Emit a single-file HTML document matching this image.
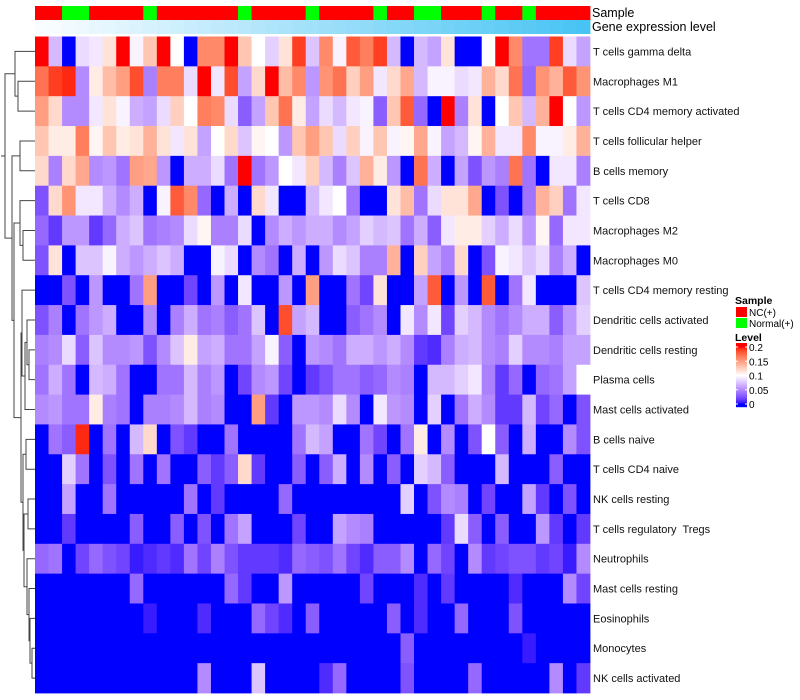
<!DOCTYPE html>
<html><head><meta charset="utf-8"><style>
html,body{margin:0;padding:0;background:#fff;}
svg{display:block;font-family:"Liberation Sans",sans-serif;}
text{white-space:pre;}
</style></head><body>
<svg id="chart" width="800" height="700" xmlns="http://www.w3.org/2000/svg"></svg>
<script>
const rowLabels=["T cells gamma delta","Macrophages M1","T cells CD4 memory activated","T cells follicular helper","B cells memory","T cells CD8","Macrophages M2","Macrophages M0","T cells CD4 memory resting","Dendritic cells activated","Dendritic cells resting","Plasma cells","Mast cells activated","B cells naive","T cells CD4 naive","NK cells resting","T cells regulatory  Tregs","Neutrophils","Mast cells resting","Eosinophils","Monocytes","NK cells activated"];
const sampleGroups=["NC","NC","Normal","Normal","NC","NC","NC","NC","Normal","NC","NC","NC","NC","NC","NC","Normal","NC","NC","NC","NC","Normal","NC","NC","NC","NC","Normal","NC","NC","Normal","Normal","NC","NC","NC","Normal","NC","NC","Normal","NC","NC","NC","NC"];
const geneLevel=[0,0.025,0.05,0.075,0.1,0.125,0.15,0.175,0.2,0.225,0.25,0.275,0.3,0.325,0.35,0.375,0.4,0.425,0.45,0.475,0.5,0.525,0.55,0.575,0.6,0.625,0.65,0.675,0.7,0.725,0.75,0.775,0.8,0.825,0.85,0.875,0.9,0.925,0.95,0.975,1];
const r01=[.2,.07,0,.085,.09,.115,.2,.095,.13,.2,.1,0,.16,.16,.2,.13,.1,.08,.115,.19,.075,.16,.095,.18,.165,.19,.07,0,.07,.06,.115,0,0,.1,.2,.16,.04,.04,.19,.085,.06];
const r02=[.17,.19,.195,.05,.11,.135,.15,.185,.045,.165,.165,.085,.2,.09,.185,.06,.12,.2,.135,.16,.055,.155,.17,.125,.15,.09,.12,.145,.07,.095,.095,.085,.09,.14,.12,.17,.035,.155,.14,.18,.155];
const r03=[.15,.12,.05,.05,.09,.115,.095,.065,.06,.085,.125,.1,.165,.16,.085,.03,.06,.13,.17,.11,.06,.085,.07,.09,.095,.03,.13,.18,.035,0,.2,.045,.115,0,.1,.13,.07,.14,.2,.1,.055];
const r04=[.13,.11,.11,.165,.105,.13,.11,.115,.14,.115,.09,.115,.06,.1,.12,.075,.105,.1,.055,.13,.15,.13,.085,.125,.095,.13,.095,.105,.145,.095,.06,.07,.105,.14,.09,.09,.16,.095,.095,.11,.14];
const r05=[.12,.045,.12,.145,.05,.055,.04,.15,.145,.055,0,.065,.065,.085,.04,.2,.04,.055,.1,.09,.125,.07,.045,.075,.14,.11,.055,0,.17,.065,0,.06,.025,.055,.045,.17,.04,0,.09,.09,.045];
const r06=[.025,.12,.155,.09,.09,.065,.05,.065,0,.095,.18,.16,.035,0,.065,0,.12,.09,0,0,.07,.09,.1,.04,0,0,.115,.135,.04,.085,.115,.115,.145,0,.025,0,.04,.14,.125,.04,.09];
const r07=[.035,.015,.055,.055,.015,.035,.065,.075,.04,.045,.05,.085,.105,.045,.045,.085,0,.05,.065,.055,.065,.065,.05,.06,.08,.07,.075,.04,.065,.03,.09,.11,.11,.08,.065,.085,.055,.105,.035,.09,.09];
const r08=[.025,.115,0,.075,.075,.095,.065,.055,.065,.075,.065,0,0,.095,.085,0,.05,.04,0,.065,0,.055,.085,.075,.045,.045,.14,0,.125,.06,.045,.12,0,.025,.095,.09,.075,.085,.045,.065,0];
const r09=[0,0,.025,0,.055,0,0,.04,.15,0,0,.02,0,.055,0,.09,0,0,.055,0,.15,0,0,.04,.02,.115,0,0,.06,.18,0,.055,0,.18,0,.04,.09,0,0,0,.075];
const r10=[.025,.045,0,.04,.055,.065,0,0,.05,0,.045,.065,.04,.045,.03,.04,.075,0,.185,.06,.07,0,0,.03,.04,.05,0,.09,.05,.09,.02,.08,.07,.05,.04,.05,.065,.065,.03,.055,.08];
const r11=[.045,.05,.085,.03,.075,.05,.05,.055,.025,.05,.075,.11,.06,.065,.04,.04,.06,.095,.03,0,.055,.05,.04,.065,.065,.055,.065,.05,.015,.01,.045,.065,.07,.05,.045,.08,.05,.05,.045,.06,.06];
const r12=[.04,.065,.04,0,.07,.065,.04,0,0,.04,.04,.07,.045,.055,0,.02,.05,.055,.02,0,.015,.025,.04,.04,.03,.035,.05,.045,0,.07,.07,.08,.09,.045,.015,.035,0,.035,.04,.06,.1];
const r13=[.05,.055,.04,.04,.11,.045,.04,0,.045,.045,.05,.07,.045,.05,0,0,.15,.015,0,.055,.055,.05,.085,.05,0,.09,.055,.05,0,.08,0,.04,.065,.05,.015,.015,.07,.02,.035,0,.025];
const r14=[0,.04,.03,.195,0,.04,0,.07,.12,0,.025,.015,0,0,.04,0,0,0,0,.04,.07,.06,0,0,.04,.02,0,.04,.11,0,.05,0,.025,.1,.03,0,.065,0,0,.05,.025];
const r15=[0,0,.08,.04,0,.025,0,.04,0,.04,0,0,.03,.015,.03,.12,.015,0,0,.03,0,.03,.065,0,.05,0,.03,0,.08,.07,.03,0,0,0,.07,0,0,0,.03,0,0];
const r16=[0,0,.06,0,0,.04,0,0,0,0,0,.04,0,.015,0,0,0,0,.035,0,0,0,0,0,0,0,0,.08,0,.025,.05,.045,0,.02,0,0,.06,.015,0,.025,0];
const r17=[0,0,.015,0,0,0,0,.03,0,0,.03,0,.025,0,.04,.06,0,0,0,.02,0,0,.06,.05,.045,0,0,0,0,0,.015,.085,.03,0,.03,0,0,.055,.015,0,.015];
const r18=[.035,.04,0,.02,.035,.025,.02,.005,.01,.015,.01,.04,.02,.045,.025,.015,.015,.015,.01,.035,.03,.025,.04,.02,.01,.03,.03,.05,0,.035,.02,0,.05,.015,.02,.025,.025,.015,.02,.005,.05];
const r19=[0,0,0,0,0,0,0,.035,0,0,0,0,0,0,.035,.015,0,0,.055,0,0,0,0,0,.02,0,0,0,.01,0,.015,0,0,0,0,.01,0,0,0,.05,.02];
const r20=[0,0,0,0,0,0,0,0,.005,0,0,0,.01,0,0,0,.035,.02,.01,0,.03,0,0,0,0,0,.03,0,.01,0,0,.035,0,0,0,.025,0,0,0,0,0];
const r21=[0,0,0,0,0,0,0,0,0,0,0,0,0,0,0,0,0,0,0,0,0,0,0,0,0,0,0,.03,0,0,0,0,0,0,0,0,.005,0,0,0,0];
const r22=[0,0,0,0,0,0,0,0,0,0,0,0,.05,0,0,0,.075,0,0,0,0,.01,.035,0,0,0,0,.025,0,0,0,0,.035,0,0,0,0,0,.05,0,.015];
const values=[r01,r02,r03,r04,r05,r06,r07,r08,r09,r10,r11,r12,r13,r14,r15,r16,r17,r18,r19,r20,r21,r22];
const levelTicks=[0,0.05,0.1,0.15,0.2];
const tickText=["0","0.05","0.1","0.15","0.2"];

const NS="http://www.w3.org/2000/svg";
const svg=document.getElementById('chart');
const X0=35,X1=590,Y0=36.5,Y1=693;
const nC=values[0].length,nR=values.length;
const cw=(X1-X0)/nC,rh=(Y1-Y0)/nR;
const xPos=i=>X0+i*cw;
const yPos=j=>Y0+j*rh;
function mk(t,a){const e=document.createElementNS(NS,t);for(const k in a)e.setAttribute(k,a[k]);return e;}
function s2l(c){c/=255;return c<=0.04045?c/12.92:Math.pow((c+0.055)/1.055,2.4);}
function l2s(c){c=c<=0.0031308?12.92*c:1.055*Math.pow(c,1/2.4)-0.055;return Math.max(0,Math.min(255,Math.round(c*255)));}
function toLab(r,g,b){r=s2l(r);g=s2l(g);b=s2l(b);let x=(0.4124*r+0.3576*g+0.1805*b)/0.95047,y=0.2126*r+0.7152*g+0.0722*b,z=(0.0193*r+0.1192*g+0.9505*b)/1.08883;const f=t=>t>0.008856?Math.cbrt(t):7.787*t+16/116;x=f(x);y=f(y);z=f(z);return[116*y-16,500*(x-y),200*(y-z)];}
function fromLab(L,a,b){let y=(L+16)/116,x=a/500+y,z=y-b/200;const fi=t=>t*t*t>0.008856?t*t*t:(t-16/116)/7.787;x=fi(x)*0.95047;y=fi(y);z=fi(z)*1.08883;const r=3.2406*x-1.5372*y-0.4986*z,g=-0.9689*x+1.8758*y+0.0415*z,bb=0.0557*x-0.2040*y+1.0570*z;return`rgb(${l2s(r)},${l2s(g)},${l2s(bb)})`;}
const LB=toLab(0,0,255),LW=toLab(255,255,255),LR=toLab(255,0,0);
function col(v){v=Math.max(0,Math.min(0.2,v));let a,b,t;if(v<0.1){a=LB;b=LW;t=v/0.1;}else{a=LW;b=LR;t=(v-0.1)/0.1;}return fromLab(a[0]+(b[0]-a[0])*t,a[1]+(b[1]-a[1])*t,a[2]+(b[2]-a[2])*t);}
function geneCol(t){const a=[250,253,255],b=[72,196,244];return`rgb(${a.map((c,i)=>Math.round(c+(b[i]-c)*t)).join(',')})`;}

const gA=mk('g',{});


svg.appendChild(gA);
sampleGroups.forEach((s,i)=>{
  const r=mk('rect',{x:xPos(i),y:6,width:cw+0.4,height:14,fill:s==="NC"?"#FF0000":"#00FF00"});
  
  
  gA.appendChild(r);
});
geneLevel.forEach((g,i)=>{
  const r=mk('rect',{x:xPos(i),y:20,width:cw+0.4,height:14,fill:geneCol(g)});
  
  
  gA.appendChild(r);
});
[["Sample",17],["Gene expression level",31]].forEach(([t,y])=>{
  const e=mk('text',{x:592,y:y,'font-size':12.5,fill:'#000'});e.textContent=t;
  
  
  svg.appendChild(e);
});
const gH=mk('g',{});


svg.appendChild(gH);
values.forEach((row,j)=>row.forEach((v,i)=>{
  const r=mk('rect',{x:xPos(i),y:yPos(j),width:cw+0.4,height:rh+0.4,fill:col(v)});
  
  
  gH.appendChild(r);
}));
rowLabels.forEach((l,j)=>{
  const e=mk('text',{x:593,y:yPos(j)+rh/2+4,'font-size':11,fill:'#111'});e.textContent=l;
  
  
  svg.appendChild(e);
});
const N=(x,l,r)=>({x,l,r});
const tree=N(5,N(15,0,N(18,1,2)),N(12,N(20,3,4),N(14,N(20,5,N(23,6,7)),N(21,N(22,8,N(25,N(27,9,N(29,10,11)),12)),N(23,N(26,13,14),N(24,N(28,15,16),N(27,17,N(29,18,N(30,19,N(32,20,21))))))))));
const gD=mk('g',{stroke:'#444','stroke-width':1,fill:'none'});


svg.appendChild(gD);
function draw(n){
  if(typeof n==="number")return{x:X0,y:yPos(n)+rh/2};
  const a=draw(n.l),b=draw(n.r);
  gD.appendChild(mk('path',{d:`M${a.x},${a.y}H${n.x}V${b.y}H${b.x}`}));
  return{x:n.x,y:(a.y+b.y)/2};
}
const root=draw(tree);
gD.appendChild(mk('path',{d:`M${root.x},${root.y}H1`}));

const gL=mk('g',{});


svg.appendChild(gL);
function txt(t,x,y,s,w,name){const e=mk('text',{x,y,'font-size':s,'font-weight':w||'normal',fill:'#000'});e.textContent=t;gL.appendChild(e);}
txt("Sample",735,304,10.5,'bold','legend-title-sample');
[["NC(+)","#FF0000",307],["Normal(+)","#00FF00",318]].forEach(([t,c,y])=>{
  const r=mk('rect',{x:736,y:y,width:11,height:10,fill:c});
  
  
  gL.appendChild(r);
  txt(t,749,y+9,10,null,'legend-entry');
});
txt("Level",735,341,10.5,'bold','legend-title-level');
const cbTop=347,cbBot=404;
const cy=v=>cbBot-(v/0.2)*(cbBot-cbTop);
for(let k=0;k<64;k++){
  const y=343+k;
  const v=Math.max(0,Math.min(0.2,0.2*(cbBot-y-0.5)/(cbBot-cbTop)));
  gL.appendChild(mk('rect',{x:736,y:y,width:11,height:1.2,fill:col(v)}));
}
levelTicks.forEach((v,i)=>{
  gL.appendChild(mk('line',{x1:736,x2:738,y1:cy(v),y2:cy(v),stroke:'#fff','stroke-width':1}));
  gL.appendChild(mk('line',{x1:745,x2:747,y1:cy(v),y2:cy(v),stroke:'#fff','stroke-width':1}));
  txt(tickText[i],749,cy(v)+4,10,null,'colorbar-tick-label');
});
</script>
</body></html>
